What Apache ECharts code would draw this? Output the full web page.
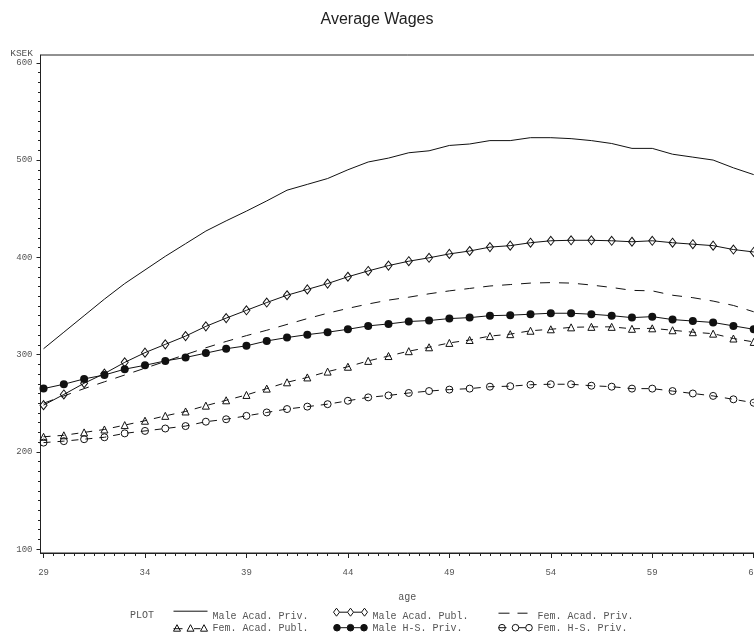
<!DOCTYPE html>
<html>
<head>
<meta charset="utf-8">
<script src="https://cdn.jsdelivr.net/npm/echarts@6/dist/echarts.min.js"></script>
<style>
  html, body { margin: 0; padding: 0; background: #fff; overflow: hidden; }
  #chart { width: 800px; height: 635px; }
</style>
</head>
<body>
<div id="chart"></div>
<script>
// Average annual wages (KSEK) by age, six groups
const ages = [29, 30, 31, 32, 33, 34, 35, 36, 37, 38, 39, 40, 41, 42, 43, 44, 45, 46,
              47, 48, 49, 50, 51, 52, 53, 54, 55, 56, 57, 58, 59, 60, 61, 62, 63, 64];

const maleAcadPriv = [306, 323, 340, 357, 373, 387, 401, 414, 427, 437.5,
                      447.5, 458, 469, 475, 481, 490, 498, 502, 507.5, 509.5,
                      515, 516.5, 520, 520, 523, 523, 522, 520, 517, 512,
                      512, 506, 503, 500, 492, 485];
const maleAcadPubl = [248, 259, 270.5, 280.5, 292, 302, 310.5, 319, 329, 337.5,
                      345.5, 353.5, 361, 367, 373, 380, 386, 391.5, 396, 399.5,
                      403.5, 406.5, 410.5, 412, 415, 417, 417.5, 417.5, 417, 416,
                      417, 415, 413.5, 412, 408, 405.5];
const femAcadPriv = [250, 257.5, 265, 272, 279, 286, 293, 300, 307, 313.5,
                     319.5, 325, 331, 337, 342.5, 347.5, 352, 356, 359, 362.5,
                     365.5, 368, 370.5, 372, 373.5, 374, 373.5, 371.5, 369, 366,
                     365.5, 361, 358.5, 355, 350.5, 344];
const femAcadPubl = [215.5, 217, 220, 223, 227.5, 232, 237, 241.5, 247.5, 253,
                     258.5, 265, 271.5, 276.5, 282.5, 287.5, 293.5, 298.5, 303.5, 307.5,
                     312, 315, 319, 321, 324.5, 326, 328, 328.5, 328.5, 326.5,
                     327, 325, 323, 321.5, 316.5, 313];
const maleHSPriv = [265, 269.5, 275, 279, 285, 289, 293.5, 297, 301.5, 306,
                    309, 314, 317.5, 320.5, 323, 326, 329.5, 331.5, 334, 335,
                    337, 338, 340, 340.5, 341.5, 342.5, 342.5, 341.5, 340, 338,
                    339, 336, 334.5, 333, 329.5, 326];
const femHSPriv = [209.5, 211, 213, 215, 219, 221.5, 224, 226.5, 231, 233.5,
                   237, 240.5, 244, 246.5, 249, 252.5, 256, 258, 260.5, 262.5,
                   264, 265, 267, 267.5, 269, 269.5, 269.5, 268, 267, 265,
                   265, 262.5, 260, 257.5, 254, 250.5];

const seriesNames = ['Male Acad. Priv.', 'Male Acad. Publ.', 'Fem. Acad. Priv.',
                     'Fem. Acad. Publ.', 'Male H-S. Priv.', 'Fem. H-S. Priv.'];
const xTickLabels = [29, 34, 39, 44, 49, 54, 59, 64];
const yTickLabels = [100, 200, 300, 400, 500, 600];
const titleText = 'Average Wages';
const xTitle = 'age';
const yTitle = 'KSEK';
const legendTitle = 'PLOT';

// minor tick positions: every half year, every 10 KSEK
const xMinor = [];
for (let v = 29; v <= 65.001; v += 0.5) xMinor.push(v);
const yMinor = [];
for (let v = 100; v <= 600; v += 10) yMinor.push(v);

const MONO = 'Liberation Mono, DejaVu Sans Mono, monospace';
const GREY = '#555';
const INK = '#111';
const X_MIN = 28.85, X_MAX = 65;

const pairs = vals => ages.map((a, i) => [a, vals[i]]);
const hollow = { color: 'rgba(0,0,0,0)', borderColor: INK, borderWidth: 1 };

// legend sample glyphs, drawn in a 34 x 16 box
const BOX = 'M0,0M34,16';
const circ = (cx, cy, r) => `M${cx - r},${cy}A${r},${r} 0 1 1 ${cx + r},${cy}A${r},${r} 0 1 1 ${cx - r},${cy}Z`;
const icons = {
  solid: `path://${BOX}M0,3L34,3`,
  diamonds: `path://${BOX}M0,4L3,0L6,4L3,8ZM6,4L14,4M14,4L17,0L20,4L17,8ZM20,4L28,4M28,4L31,0L34,4L31,8Z`,
  dashed: `path://${BOX}M0,5L11,5M19,5L29,5`,
  triangles: `path://${BOX}M0,11L3.5,4.5L7,11ZM0,8.5L9,8.5M13.5,11L17,4.5L20.5,11ZM20.5,8.5L27,8.5M27,11L30.5,4.5L34,11Z`,
  dots: `path://${BOX}${circ(3.5, 7.5, 3.3)}M6.8,7.5L13.7,7.5${circ(17, 7.5, 3.3)}M20.3,7.5L27.2,7.5${circ(30.5, 7.5, 3.3)}`,
  circles: `path://${BOX}${circ(3.5, 7.5, 3.3)}M0,7.5L8,7.5${circ(17, 7.5, 3.3)}M20.3,7.5L27.2,7.5${circ(30.5, 7.5, 3.3)}`
};

const legendText = { fontFamily: MONO, fontSize: 10, color: GREY };
function legendItem(name, icon, left, top, filled) {
  return {
    data: [name], icon: icon, left: left, top: top, padding: 0,
    itemWidth: 34, itemHeight: 16, itemGap: 0, symbolKeepAspect: false,
    selectedMode: false,
    itemStyle: { color: filled ? INK : 'rgba(0,0,0,0)', borderColor: INK, borderWidth: 1 },
    textStyle: legendText
  };
}

const chart = echarts.init(document.getElementById('chart'), null, { renderer: 'canvas' });

// the frame runs on past the visible page edge, to age 65
chart.setOption({
  animation: false,
  backgroundColor: '#fff',
  grid: {
    left: 40.5, right: 26, top: 55, bottom: 82,
    show: true, borderColor: '#222', borderWidth: 1, backgroundColor: 'rgba(0,0,0,0)'
  },
  xAxis: [
    {
      type: 'value', min: X_MIN, max: X_MAX, position: 'bottom',
      name: xTitle, nameLocation: 'middle', nameGap: 39,
      nameTextStyle: { fontFamily: MONO, fontSize: 10, color: GREY },
      axisLine: { show: true, lineStyle: { color: '#222', width: 1 } },
      axisTick: { show: true, customValues: xTickLabels, length: 5, lineStyle: { color: '#222' } },
      axisLabel: { customValues: xTickLabels, margin: 15, fontFamily: MONO, fontSize: 9, color: GREY },
      splitLine: { show: false }
    },
    {
      type: 'value', min: X_MIN, max: X_MAX, position: 'bottom',
      axisLine: { show: false },
      axisTick: { show: true, customValues: xMinor, length: 3, lineStyle: { color: '#222' } },
      axisLabel: { show: false },
      splitLine: { show: false }
    }
  ],
  yAxis: [
    {
      type: 'value', min: 96, max: 608, position: 'left',
      axisLine: { show: true, lineStyle: { color: '#222', width: 1 } },
      axisTick: { show: true, customValues: yTickLabels, length: 4, lineStyle: { color: '#222' } },
      axisLabel: { customValues: yTickLabels, margin: 8, fontFamily: MONO, fontSize: 9, color: GREY },
      splitLine: { show: false }
    },
    {
      type: 'value', min: 96, max: 608, position: 'left',
      axisLine: { show: false },
      axisTick: { show: true, customValues: yMinor, length: 2.5, lineStyle: { color: '#222' } },
      axisLabel: { show: false },
      splitLine: { show: false }
    }
  ],
  legend: [
    legendItem(seriesNames[0], icons.solid, 173, 607.7, false),
    legendItem(seriesNames[1], icons.diamonds, 333, 607.7, false),
    legendItem(seriesNames[2], icons.dashed, 498, 607.7, false),
    legendItem(seriesNames[3], icons.triangles, 173, 619.7, false),
    legendItem(seriesNames[4], icons.dots, 333, 619.7, true),
    legendItem(seriesNames[5], icons.circles, 498, 619.7, false)
  ],
  graphic: [
    {
      type: 'text', x: 377, y: 20,
      style: { text: titleText, align: 'center', verticalAlign: 'middle',
               font: '16px Liberation Sans, Arial, sans-serif', fill: '#222' }
    },
    {
      type: 'text', x: 33, y: 53,
      style: { text: yTitle, align: 'right', verticalAlign: 'middle', font: '9.5px ' + MONO, fill: GREY }
    },
    {
      type: 'text', x: 130, y: 615.7,
      style: { text: legendTitle, align: 'left', verticalAlign: 'middle', font: '10px ' + MONO, fill: GREY }
    }
  ],
  series: [
    {
      name: seriesNames[0], type: 'line', data: pairs(maleAcadPriv),
      symbol: 'none', lineStyle: { color: INK, width: 1 }, itemStyle: { color: INK }
    },
    {
      name: seriesNames[1], type: 'line', data: pairs(maleAcadPubl),
      symbol: 'diamond', symbolSize: [7, 9],
      lineStyle: { color: INK, width: 1 }, itemStyle: hollow
    },
    {
      name: seriesNames[2], type: 'line', data: pairs(femAcadPriv),
      symbol: 'none', lineStyle: { color: INK, width: 1, type: [10, 9] }, itemStyle: { color: INK }
    },
    {
      name: seriesNames[3], type: 'line', data: pairs(femAcadPubl),
      symbol: 'triangle', symbolSize: [7, 7],
      lineStyle: { color: INK, width: 1, type: [7, 7] }, itemStyle: hollow
    },
    {
      name: seriesNames[4], type: 'line', data: pairs(maleHSPriv),
      symbol: 'circle', symbolSize: 8,
      lineStyle: { color: INK, width: 1 }, itemStyle: { color: INK, borderColor: INK, borderWidth: 0 }
    },
    {
      name: seriesNames[5], type: 'line', data: pairs(femHSPriv),
      symbol: 'circle', symbolSize: 7,
      lineStyle: { color: INK, width: 1, type: [7, 7] }, itemStyle: hollow
    }
  ]
});
</script>
</body>
</html>
